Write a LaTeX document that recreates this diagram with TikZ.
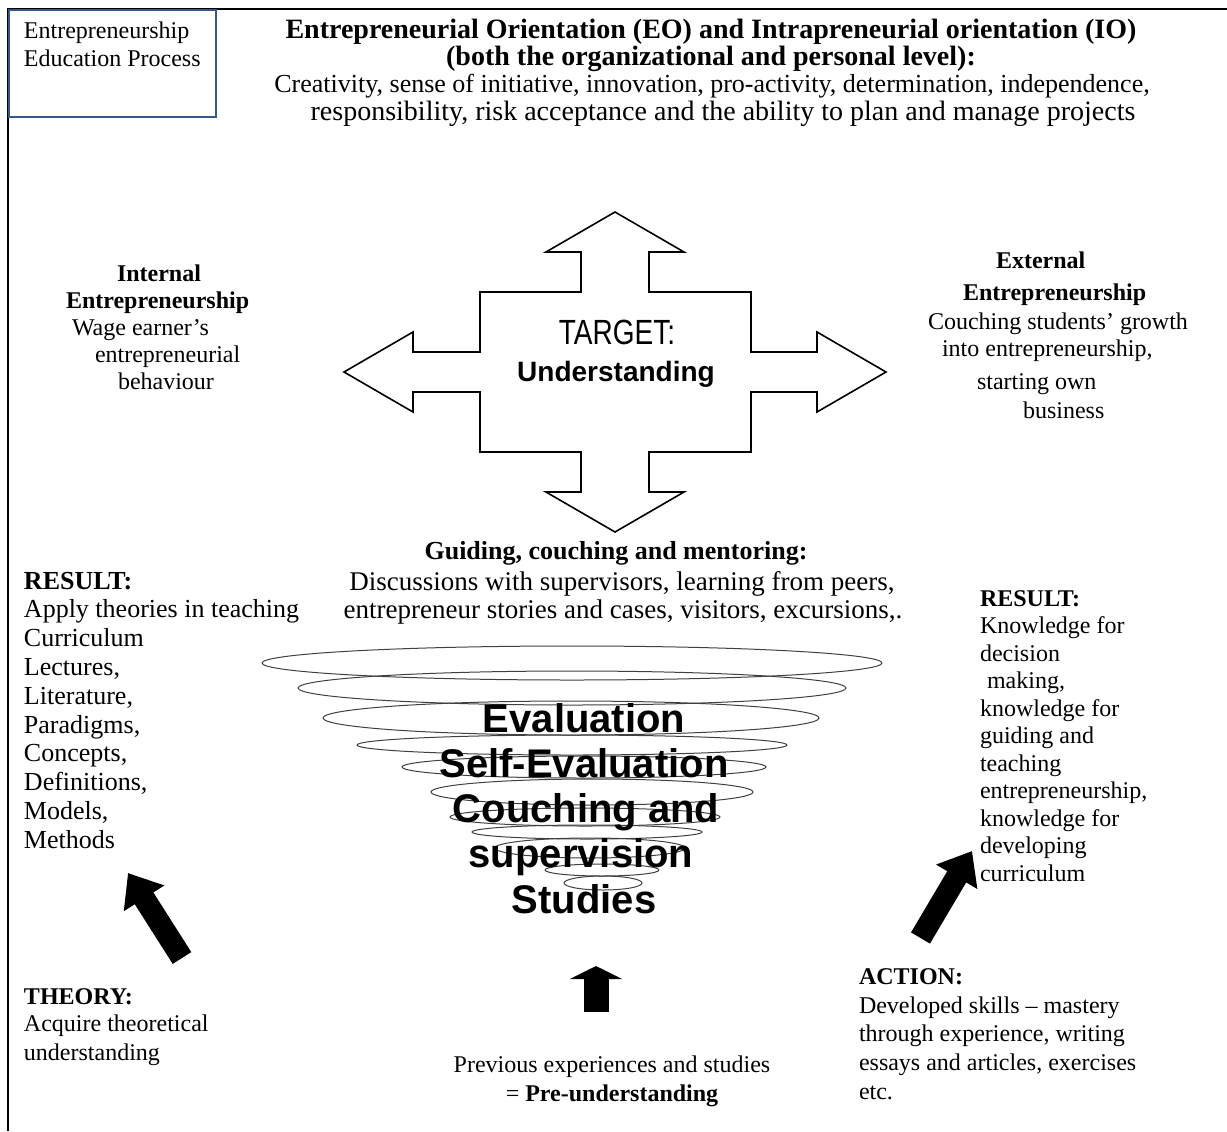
\documentclass[tikz,border=0pt]{standalone}
\usepackage{fontspec}
\setmainfont{Liberation Serif}
\newfontfamily\lsans{Liberation Sans}
\newfontfamily\lsanscond[FakeStretch=0.8]{Liberation Sans}
\usetikzlibrary{arrows.meta}
\definecolor{boxblue}{RGB}{54,86,140}
\begin{document}
\begin{tikzpicture}[x=0.5pt,y=-0.5pt]
\tikzset{
  tl/.style={inner sep=0pt, outer sep=0pt, anchor=base west, font=\fontsize{12}{14}\selectfont},
  tcn/.style={tl, anchor=base},
  tb/.style={tl, font=\fontsize{12}{14}\selectfont\bfseries},
  tbc/.style={tb, anchor=base},
  sz/.style={font=\fontsize{#1}{#1}\selectfont},
  bsz/.style={font=\fontsize{#1}{#1}\selectfont\bfseries},
  spiral/.style={draw=black!75, line width=0.5pt},
  spiraltext/.style={inner sep=0pt, outer sep=0pt, anchor=base, font=\lsans\bfseries\fontsize{20}{23}\selectfont},
  crossline/.style={draw=black, line width=0.8pt, line join=miter},
  blackarrow/.style={line width=11pt, -{Triangle[length=15pt,width=23pt]}},
  smallarrow/.style={line width=12.5pt, -{Triangle[length=6.5pt,width=26pt]}},
  frameline/.style={line width=1pt},
}
\useasboundingbox (0,0) rectangle (1227,1131);

% frame
\draw[frameline] (1227,9) -- (8,9) -- (8,1131);
\draw[frameline, draw=boxblue] (9,9.5) rectangle (216,117);
\node[tl] (box1) at (24,38) {Entrepreneurship};
\node[tl] (box2) at (24,66) {Education Process};

% title
\node[tbc, bsz=14] (ti1) at (711,38) {Entrepreneurial Orientation (EO) and Intrapreneurial orientation (IO)};
\node[tbc, bsz=14] (ti2) at (711,65) {(both the organizational and personal level):};
\node[tcn, sz=13] (ti3) at (712,92.5) {Creativity, sense of initiative, innovation, pro-activity, determination, independence,};
\node[tcn, sz=14] (ti4) at (723,120) {responsibility, risk acceptance and the ability to plan and manage projects};

% cross arrow
\draw[crossline] (615,212) -- (684,252) -- (649,252) -- (649,292) -- (751,292) -- (751,352)
  -- (817,352) -- (817,332) -- (886,372) -- (817,412) -- (817,392) -- (751,392) -- (751,452)
  -- (649,452) -- (649,492) -- (684,492) -- (615,532) -- (546,492) -- (581,492) -- (581,452)
  -- (480,452) -- (480,392) -- (413,392) -- (413,412) -- (344,372) -- (413,332) -- (413,352)
  -- (480,352) -- (480,292) -- (581,292) -- (581,252) -- (546,252) -- cycle;
\node[inner sep=0pt, font=\lsanscond\fontsize{17.5}{20}\selectfont] (target) at (617,332) {TARGET:};
\node[inner sep=0pt, font=\lsans\bfseries\fontsize{14}{16}\selectfont] (underst) at (616,374) {Understanding};

% internal
\node[tb] (in1) at (117,281) {Internal};
\node[tb] (in2) at (66,308) {Entrepreneurship};
\node[tl] (in3) at (72,335) {Wage earner’s};
\node[tl] (in4) at (95,362) {entrepreneurial};
\node[tl] (in5) at (118,389) {behaviour};

% external
\node[tb] (ex1) at (996,268) {External};
\node[tb] (ex2) at (963,300) {Entrepreneurship};
\node[tl] (ex3) at (928,329) {Couching students’ growth};
\node[tl] (ex4) at (942,356) {into entrepreneurship,};
\node[tl] (ex5) at (977,389) {starting own};
\node[tl] (ex6) at (1023,418) {business};

% guiding
\node[tbc, bsz=13] (gu1) at (616,559.5) {Guiding, couching and mentoring:};
\node[tcn, sz=13.5] (gu2) at (622,590.5) {Discussions with supervisors, learning from peers,};
\node[tcn, sz=13.5] (gu3) at (623,618.5) {entrepreneur stories and cases, visitors, excursions,.};

% left result
\node[tb, bsz=13] (lr0) at (24,589) {RESULT:};
\node[tl, sz=13] (lr1) at (24,617.8) {Apply theories in teaching};
\node[tl, sz=13] (lr2) at (24,646.6) {Curriculum};
\node[tl, sz=13] (lr3) at (24,675.4) {Lectures,};
\node[tl, sz=13] (lr4) at (24,704.2) {Literature,};
\node[tl, sz=13] (lr5) at (24,733) {Paradigms,};
\node[tl, sz=13] (lr6) at (24,761.8) {Concepts,};
\node[tl, sz=13] (lr7) at (24,790.6) {Definitions,};
\node[tl, sz=13] (lr8) at (24,819.4) {Models,};
\node[tl, sz=13] (lr9) at (24,848.2) {Methods};

% right result
\node[tb] (rr0) at (980,606) {RESULT:};
\node[tl] (rr1) at (980,633.5) {Knowledge for};
\node[tl] (rr2) at (980,661) {decision};
\node[tl] (rr3) at (987,688.5) {making,};
\node[tl] (rr4) at (980,716) {knowledge for};
\node[tl] (rr5) at (980,743.5) {guiding and};
\node[tl] (rr6) at (980,771) {teaching};
\node[tl] (rr7) at (980,798.5) {entrepreneurship,};
\node[tl] (rr8) at (980,826) {knowledge for};
\node[tl] (rr9) at (980,853.5) {developing};
\node[tl] (rr10) at (980,881) {curriculum};

% spiral
\draw[spiral] (572,663) ellipse [x radius=155pt, y radius=8.5pt];
\draw[spiral] (572,688) ellipse [x radius=137pt, y radius=8.5pt];
\draw[spiral] (571,718) ellipse [x radius=124pt, y radius=8.5pt];
\draw[spiral] (572,745) ellipse [x radius=107.5pt, y radius=5pt];
\draw[spiral] (584,767) ellipse [x radius=91pt, y radius=5.5pt];
\draw[spiral] (592,792) ellipse [x radius=80.5pt, y radius=6.5pt];
\draw[spiral] (585,817) ellipse [x radius=67.5pt, y radius=4.5pt];
\draw[spiral] (587,832) ellipse [x radius=57.5pt, y radius=3.5pt];
\draw[spiral] (590,848) ellipse [x radius=47.5pt, y radius=5pt];
\draw[spiral] (602,870) ellipse [x radius=28.5pt, y radius=3pt];
\draw[spiral] (603,883) ellipse [x radius=19.5pt, y radius=3.5pt];
\node[spiraltext] (sp1) at (584,732) {Evaluation};
\node[spiraltext] (sp2) at (584,777) {Self-Evaluation};
\node[spiraltext] (sp3) at (586,822) {Couching and};
\node[spiraltext] (sp4) at (581,867) {supervision};
\node[spiraltext] (sp5) at (584,913) {Studies};

% black arrows
\coordinate (ltail) at (182,958);
\coordinate (ltip) at (128,873);
\draw[blackarrow] (ltail) -- (ltip);
\coordinate (rtail) at (920.5,938);
\coordinate (rtip) at (972,851);
\draw[blackarrow] (rtail) -- (rtip);
\coordinate (mtail) at (596,1012);
\coordinate (mtip) at (596,966);
\draw[smallarrow] (mtail) -- (mtip);

% theory
\node[tb] (th0) at (24,1004) {THEORY:};
\node[tl] (th1) at (24,1031) {Acquire theoretical};
\node[tl] (th2) at (24,1060) {understanding};

% previous
\node[tcn] (pr1) at (612,1072) {Previous experiences and studies};
\node[tcn] (pr2) at (612,1101) {= \textbf{Pre-understanding}};

% action
\node[tb] (ac0) at (859,984) {ACTION:};
\node[tl] (ac1) at (859,1013) {Developed skills – mastery};
\node[tl] (ac2) at (859,1041.5) {through experience, writing};
\node[tl] (ac3) at (859,1070) {essays and articles, exercises};
\node[tl] (ac4) at (859,1099) {etc.};
\end{tikzpicture}
\end{document}
